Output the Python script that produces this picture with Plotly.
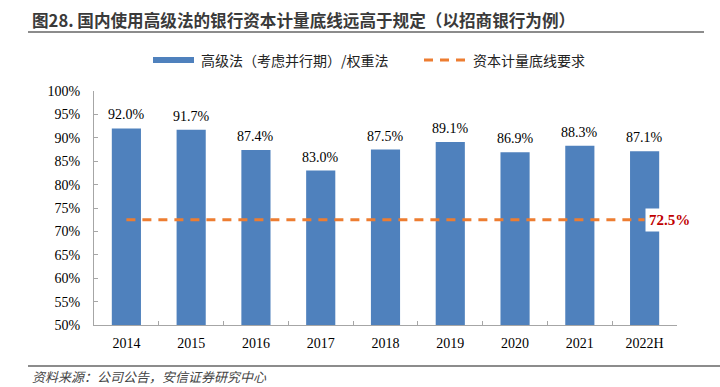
import plotly.graph_objects as go

categories = ["2014", "2015", "2016", "2017", "2018", "2019", "2020", "2021", "2022H"]
advanced_ratio = [0.920, 0.917, 0.874, 0.830, 0.875, 0.891, 0.869, 0.883, 0.871]
floor_requirement = [0.725] * len(categories)
floor_label = "72.5%"

title_text = "图28. 国内使用高级法的银行资本计量底线远高于规定（以招商银行为例）"
legend_bar = "高级法（考虑并行期）/权重法"
legend_line = "资本计量底线要求"
source_text = "资料来源：公司公告，安信证券研究中心"

W, H = 720, 387
L, R, T, B = 94, 43, 91, 62
PW, PH = W - L - R, H - T - B


def px(x):
    return (x - L) / PW


def py(y):
    return (H - B - y) / PH


serif = "Liberation Serif, Times New Roman, serif"
cjk = "Noto Sans CJK SC, sans-serif"

fig = go.Figure()
fig.add_trace(go.Bar(
    x=categories, y=advanced_ratio, name=legend_bar,
    marker=dict(color="#4F81BD", line=dict(width=0)),
    showlegend=False, hoverinfo="skip",
))
fig.add_trace(go.Scatter(
    x=categories, y=floor_requirement, mode="lines", name=legend_line,
    line=dict(color="#ED7D31", width=3, dash="9px,7px"), showlegend=False, hoverinfo="skip",
))

for i, v in enumerate(advanced_ratio):
    fig.add_annotation(x=i, y=v, xref="x", yref="y", text=f"{v*100:.1f}%",
                       showarrow=False, yanchor="bottom", yshift=4,
                       font=dict(family=serif, size=14, color="#000"))

fig.add_annotation(x=len(categories) - 1, y=floor_requirement[-1], xref="x", yref="y",
                   text=f"<b>{floor_label}</b>", showarrow=False, xanchor="left",
                   yanchor="middle", bgcolor="white", borderpad=3,
                   font=dict(family=serif, size=15, color="#C00000"))

# title
fig.add_annotation(x=px(30), y=py(20), xref="paper", yref="paper", text=f"<b>{title_text}</b>",
                   showarrow=False, xanchor="left", yanchor="middle",
                   font=dict(family=cjk, size=16.6, color="#3a3a3a"))
# legend
fig.add_shape(type="rect", xref="paper", yref="paper", x0=px(153), x1=px(194), y0=py(57), y1=py(63),
              fillcolor="#4F81BD", line=dict(width=0))
fig.add_annotation(x=px(199), y=py(60), xref="paper", yref="paper", text=legend_bar,
                   showarrow=False, xanchor="left", yanchor="middle",
                   font=dict(family=cjk, size=14, color="#222"))
fig.add_shape(type="line", xref="paper", yref="paper", x0=px(424), x1=px(466), y0=py(60), y1=py(60),
              line=dict(color="#ED7D31", width=3, dash="9px,7px"))
fig.add_annotation(x=px(471), y=py(60), xref="paper", yref="paper", text=legend_line,
                   showarrow=False, xanchor="left", yanchor="middle",
                   font=dict(family=cjk, size=14, color="#222"))
# rules
fig.add_shape(type="line", xref="paper", yref="paper", x0=px(28), x1=px(704), y0=py(32), y1=py(32),
              line=dict(color="#666", width=1.5))
fig.add_shape(type="line", xref="paper", yref="paper", x0=px(28), x1=px(720), y0=py(366), y1=py(366),
              line=dict(color="#666", width=1.5))
fig.add_annotation(x=px(30), y=py(376), xref="paper", yref="paper", text=f"<i>{source_text}</i>",
                   showarrow=False, xanchor="left", yanchor="middle",
                   font=dict(family=cjk, size=13, color="#444"))

fig.update_layout(
    width=W, height=H, margin=dict(l=L, r=R, t=T, b=B),
    paper_bgcolor="white", plot_bgcolor="white", bargap=0.55, showlegend=False,
    hovermode=False,
    xaxis=dict(type="category", showline=True, linecolor="#A6A6A6", linewidth=1,
               ticks="inside", ticklen=4, tickcolor="#A6A6A6", tickson="boundaries",
               range=[-0.5, len(categories) - 0.5], ticklabelstandoff=5,
               tickfont=dict(family=serif, size=14, color="#000"), showgrid=False),
    yaxis=dict(range=[0.5, 1.0], dtick=0.05, tickformat=".0%", showline=True,
               linecolor="#A6A6A6", linewidth=1, ticks="inside", ticklen=4,
               tickcolor="#A6A6A6", showgrid=False, zeroline=False, ticklabelstandoff=10,
               tickfont=dict(family=serif, size=14, color="#000")),
)
fig.write_html("out.html", config={"displayModeBar": False},
               post_script="document.body.style.margin='0px';")
